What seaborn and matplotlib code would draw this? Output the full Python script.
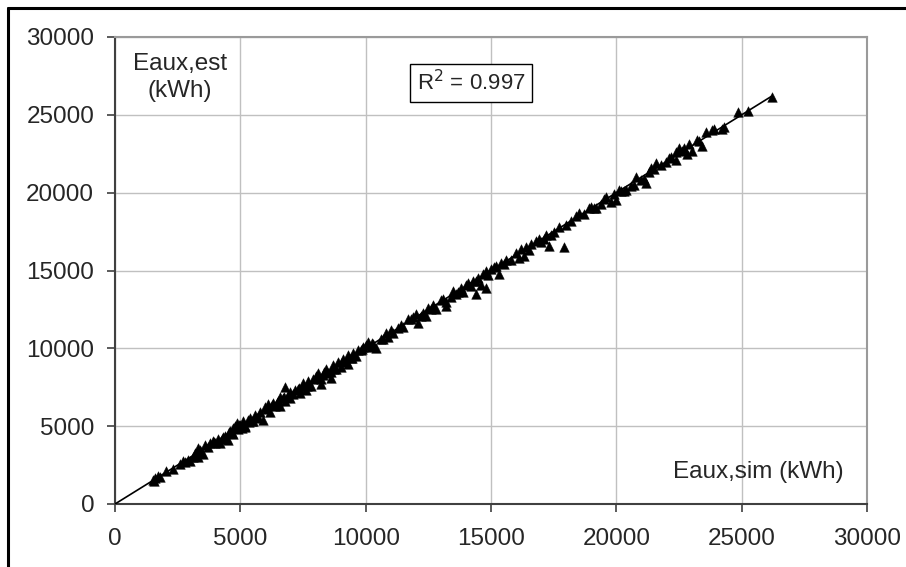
import numpy as np
import pandas as pd
import matplotlib
matplotlib.use("Agg")
import matplotlib.pyplot as plt
import seaborn as sns

# Simulated vs estimated auxiliary energy (kWh)
e_sim = [1500, 1600, 1550, 1700, 2050, 2600, 2800, 2900, 3000, 2700,
         3200, 3300, 3400, 3500, 3600, 3300, 3800, 3900, 4000, 4100,
         4200, 4300, 4500, 4600, 4700, 4800, 4900, 5000, 4700, 4850,
         5100, 5200, 5300, 5400, 5500, 5600, 5200, 5800, 5900, 6000,
         6100, 6200, 6300, 6400, 6500, 6600, 6700, 6800, 6900, 7000,
         6800, 7000, 7200, 7300, 7400, 7500, 7600, 7700, 7800, 7900,
         8000, 7500, 8100, 8200, 8300, 8400, 8500, 8600, 8700, 8800,
         8900, 9000, 8200, 9100, 9200, 9300, 9400, 9500, 9600, 9700,
         9800, 9900, 10000, 10100, 10200, 10300, 10400, 10600, 10800, 11000,
         11100, 10900, 11300, 11500, 11700, 11800, 12000, 12100, 12300, 12400,
         12500, 12700, 12800, 13000, 13200, 13400, 13500, 13600, 13800, 13900,
         13200, 14100, 14200, 14300, 14500, 14600, 14700, 14800, 14900, 15000,
         14400, 14800, 15200, 15400, 15600, 15800, 16000, 16100, 16200, 16300,
         15300, 16600, 16800, 17000, 17100, 17200, 17300, 17500, 17700, 18000,
         17900, 18200, 18500, 18700, 18900, 19200, 19400, 19600, 19800, 19900,
         20000, 20200, 20400, 20600, 20800, 21000, 21200, 21300, 21500, 21100,
         21600, 21800, 22000, 22200, 22400, 22500, 22700, 22800, 22400, 23000,
         23300, 23560, 23890, 24210, 23400, 24300, 24850, 25250, 26200, 6600,
         4400, 5700, 9300, 11900, 16500, 19100, 20300, 22900, 3700, 8600,
         1800, 2300, 3100, 3450, 3950, 4250, 4550, 4650, 4950, 5050,
         5350, 5450, 5650, 6050, 6250, 6450, 6750, 7100, 7350, 7650,
         8050, 8350, 8750, 9050, 9450, 9850, 10250, 10700, 11400, 12200,
         12600, 13100, 13700, 14000, 14400, 15100, 15500, 16400, 16900, 17400,
         18400, 19000, 19500, 20100, 20700, 21400, 22100, 22600, 23200, 23800]
e_est = [1550, 1700, 1450, 1800, 2150, 2600, 2700, 2800, 2750, 2750,
         3300, 3050, 3500, 3200, 3800, 3600, 3900, 4050, 3900, 4200,
         3950, 4300, 4100, 4700, 4900, 5000, 4800, 5100, 4500, 5200,
         5300, 5000, 5400, 5500, 5300, 5700, 4950, 5900, 5400, 6200,
         6400, 5900, 6500, 6300, 6600, 6300, 6800, 6600, 7000, 6800,
         7500, 7200, 7300, 7400, 7100, 7600, 7300, 7900, 7600, 8000,
         8200, 7800, 8400, 8000, 8300, 8700, 8400, 8100, 8900, 8700,
         9100, 8800, 7700, 9300, 9200, 9600, 9400, 9700, 9500, 9900,
         9900, 10100, 10200, 10400, 10100, 10300, 10000, 10600, 11000, 11200,
         11000, 10700, 11300, 11400, 11900, 11900, 12200, 11600, 12300, 12100,
         12600, 12800, 12500, 13100, 13000, 13300, 13700, 13500, 13900, 13600,
         12700, 14200, 14000, 14300, 14500, 14100, 14800, 15000, 14700, 15100,
         13500, 13900, 15300, 15500, 15700, 15700, 16100, 15800, 16400, 15900,
         14800, 16700, 16900, 16800, 17000, 17300, 16600, 17500, 17800, 17900,
         16500, 18200, 18700, 18600, 19000, 19000, 19300, 19700, 19400, 19900,
         19500, 20100, 20200, 20400, 21000, 20800, 20600, 21300, 21500, 20900,
         21900, 21800, 22000, 22300, 22600, 22900, 22900, 22500, 22100, 22700,
         23300, 23890, 24080, 24080, 23000, 24200, 25180, 25260, 26150, 6900,
         4350, 5600, 9000, 12000, 16300, 19000, 20100, 23100, 3650, 8500,
         1750, 2250, 3000, 3350, 4000, 4150, 4600, 4550, 5050, 4900,
         5250, 5350, 5550, 6100, 6350, 6500, 6900, 7050, 7450, 7550,
         8100, 8450, 8650, 9100, 9350, 9950, 10350, 10600, 11500, 12100,
         12500, 13200, 13600, 14100, 14300, 15200, 15400, 16500, 17000, 17300,
         18500, 19100, 19600, 20200, 20500, 21600, 22200, 22700, 23400, 24000]

# regression line
fit_x = [0, 26200]
fit_y = [0, 26200]

x_ticks = [0, 5000, 10000, 15000, 20000, 25000, 30000]
y_ticks = [0, 5000, 10000, 15000, 20000, 25000, 30000]

sns.set_style("white")
plt.rcParams['font.family'] = ['Liberation Sans', 'DejaVu Sans']

df = pd.DataFrame({'sim': e_sim, 'est': e_est})

fig = plt.figure(figsize=(9.06, 5.67), dpi=100)
ax = fig.add_axes([115 / 906, 1 - 504 / 567, 752 / 906, 467 / 567])

ax.grid(True, color='#c0c0c0', linewidth=1)
ax.set_axisbelow(True)

sns.lineplot(x=fit_x, y=fit_y, ax=ax, color='black', linewidth=1.2, zorder=3)
sns.scatterplot(data=df, x='sim', y='est', ax=ax, marker='^', color='black',
                s=48, edgecolor='black', linewidth=0.3, zorder=4)

ax.set_xlim(0, 30000)
ax.set_ylim(0, 30000)
ax.set_xticks(x_ticks)
ax.set_yticks(y_ticks)
ax.set_xlabel('')
ax.set_ylabel('')
ax.tick_params(axis='both', which='major', labelsize=17.5, length=6, width=1.2,
               color='#404040', direction='out', bottom=True, left=True)
ax.tick_params(axis='x', pad=11)
ax.tick_params(axis='y', pad=9)

for side in ['left', 'bottom']:
    ax.spines[side].set_color('#404040')
    ax.spines[side].set_linewidth(1.5)
for side in ['top', 'right']:
    ax.spines[side].set_color('#9a9a9a')
    ax.spines[side].set_linewidth(1.5)

ax.text(2600, 29000, 'Eaux,est\n(kWh)', ha='center', va='top', fontsize=17.5,
        linespacing=1.3)
ax.text(29050, 2050, 'Eaux,sim (kWh)', ha='right', va='center', fontsize=17.5)
ax.text(14200, 27050, r'R$^2$ = 0.997', ha='center', va='center', fontsize=16,
        bbox=dict(boxstyle='square,pad=0.3', facecolor='white',
                  edgecolor='black', linewidth=1))

# outer frame of the figure
fig.add_artist(plt.Line2D([7.5 / 906, 7.5 / 906], [0, 1 - 7.5 / 567],
                          transform=fig.transFigure, color='black', linewidth=2.2))
fig.add_artist(plt.Line2D([7.5 / 906, 1], [1 - 7.5 / 567, 1 - 7.5 / 567],
                          transform=fig.transFigure, color='black', linewidth=2.2))

fig.savefig('out.png', dpi=100)
